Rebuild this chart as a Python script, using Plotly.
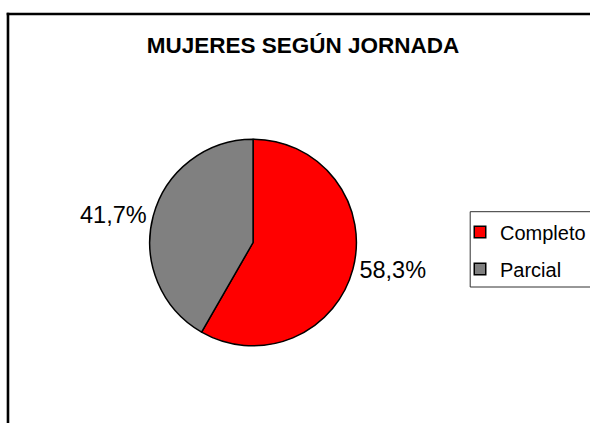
import plotly.graph_objects as go

title = "MUJERES SEGÚN JORNADA"
categories = ["Completo", "Parcial"]
values = [58.3, 41.7]
colors = ["#FF0000", "#808080"]

W, H = 591, 423
OFF = 0
cx, cy, r = 253.5 - OFF, 242.5 - OFF, 103.5

fig = go.Figure()
fig.add_trace(go.Pie(
    labels=categories,
    values=values,
    sort=False,
    direction="clockwise",
    rotation=0,
    showlegend=False,
    marker=dict(colors=colors, line=dict(color="#000000", width=1.5)),
    textposition="outside",
    texttemplate="%{percent:.1%}",
    textfont=dict(family="Liberation Sans, Arial", size=23.5, color="#000000"),
    hoverinfo="label+percent",
    domain=dict(x=[(cx - r) / W, (cx + r) / W], y=[1 - (cy + r) / H, 1 - (cy - r) / H]),
))

# legend entries
for cat, col in zip(categories, colors):
    fig.add_trace(go.Scatter(
        x=[None], y=[None], mode="markers", name=cat, legendgroup=cat,
        marker=dict(symbol="square", size=11.5, color=col, line=dict(color="#000000", width=1.5)),
        hoverinfo="skip",
    ))


def px(x):
    return (x - OFF) / W


def py(y):
    return 1 - (y - OFF) / H


line_black = dict(color="#000000", width=2.6)
line_leg = dict(color="#303030", width=1)

fig.update_layout(
    width=W, height=H,
    margin=dict(l=0, r=0, t=0, b=0),
    paper_bgcolor="#FFFFFF",
    plot_bgcolor="rgba(0,0,0,0)",
    separators=",.",
    font=dict(family="Liberation Sans, Arial", color="#000000"),
    xaxis=dict(visible=False),
    yaxis=dict(visible=False),
    title=dict(text="<b>" + title + "</b>", x=px(303), xanchor="center",
               y=py(45), yanchor="middle",
               font=dict(size=22.5, family="Liberation Sans, Arial", color="#000000")),
    legend=dict(x=px(461), y=py(212.5), xanchor="left", yanchor="top",
                borderwidth=0, bgcolor="rgba(0,0,0,0)", tracegroupgap=8,
                font=dict(size=20, family="Liberation Sans, Arial", color="#000000")),
    shapes=[
        # chart frame (left and top edges visible)
        dict(type="line", xref="paper", yref="paper", x0=px(8), x1=px(8), y0=0, y1=py(12.7),
             line=line_black),
        dict(type="line", xref="paper", yref="paper", x0=px(6.7), x1=1, y0=py(14), y1=py(14),
             line=line_black),
        # legend frame
        dict(type="line", xref="paper", yref="paper", x0=px(471), x1=px(471), y0=py(287), y1=py(211.7),
             line=line_leg),
        dict(type="line", xref="paper", yref="paper", x0=px(471), x1=1, y0=py(211.7), y1=py(211.7),
             line=line_leg),
        dict(type="line", xref="paper", yref="paper", x0=px(471), x1=1, y0=py(287), y1=py(287),
             line=line_leg),
    ],
)

fig.write_html(
    "out.html",
    config={"displayModeBar": False},
    post_script="document.body.style.margin='0';document.body.style.overflow='hidden';",
)
